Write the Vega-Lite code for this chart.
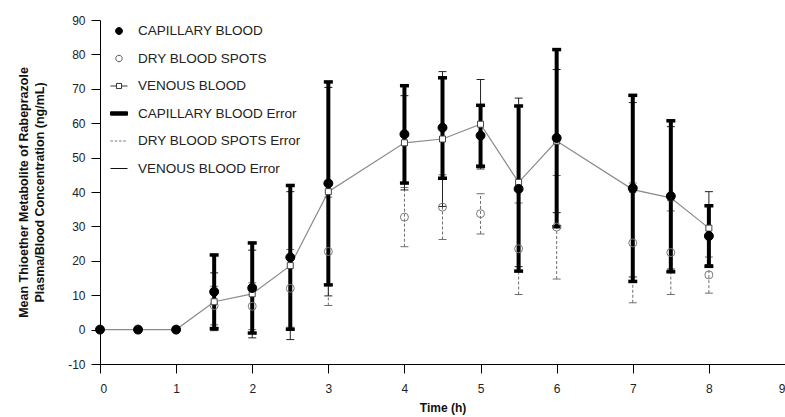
{
  "$schema": "https://vega.github.io/schema/vega-lite/v6.json",
  "width": 685,
  "height": 344,
  "autosize": "none",
  "padding": {"left": 100, "top": 20, "right": 0, "bottom": 53},
  "background": "white",
  "data": {
    "values": [
      {"time": 0, "series": "CAPILLARY BLOOD", "mean": 0},
      {"time": 0.5, "series": "CAPILLARY BLOOD", "mean": 0},
      {"time": 1, "series": "CAPILLARY BLOOD", "mean": 0},
      {"time": 1.5, "series": "CAPILLARY BLOOD", "mean": 11.0, "lo": 0.3, "hi": 21.7},
      {"time": 2, "series": "CAPILLARY BLOOD", "mean": 12.1, "lo": -1.0, "hi": 25.2},
      {"time": 2.5, "series": "CAPILLARY BLOOD", "mean": 21.0, "lo": 0.1, "hi": 41.9},
      {"time": 3, "series": "CAPILLARY BLOOD", "mean": 42.5, "lo": 13.0, "hi": 72.0},
      {"time": 4, "series": "CAPILLARY BLOOD", "mean": 56.8, "lo": 42.6, "hi": 70.9},
      {"time": 4.5, "series": "CAPILLARY BLOOD", "mean": 58.7, "lo": 44.0, "hi": 73.2},
      {"time": 5, "series": "CAPILLARY BLOOD", "mean": 56.4, "lo": 47.5, "hi": 65.2},
      {"time": 5.5, "series": "CAPILLARY BLOOD", "mean": 40.9, "lo": 17.0, "hi": 65.0},
      {"time": 6, "series": "CAPILLARY BLOOD", "mean": 55.7, "lo": 29.9, "hi": 81.4},
      {"time": 7, "series": "CAPILLARY BLOOD", "mean": 41.1, "lo": 14.0, "hi": 68.1},
      {"time": 7.5, "series": "CAPILLARY BLOOD", "mean": 38.8, "lo": 16.8, "hi": 60.7},
      {"time": 8, "series": "CAPILLARY BLOOD", "mean": 27.2, "lo": 18.4, "hi": 36.0},
      {"time": 0, "series": "DRY BLOOD SPOTS", "mean": 0},
      {"time": 0.5, "series": "DRY BLOOD SPOTS", "mean": 0},
      {"time": 1, "series": "DRY BLOOD SPOTS", "mean": 0},
      {"time": 1.5, "series": "DRY BLOOD SPOTS", "mean": 7.0, "lo": 1.4, "hi": 12.6},
      {"time": 2, "series": "DRY BLOOD SPOTS", "mean": 6.8, "lo": 0.0, "hi": 13.6},
      {"time": 2.5, "series": "DRY BLOOD SPOTS", "mean": 12.0, "lo": 0.7, "hi": 23.3},
      {"time": 3, "series": "DRY BLOOD SPOTS", "mean": 22.7, "lo": 7.0, "hi": 38.5},
      {"time": 4, "series": "DRY BLOOD SPOTS", "mean": 32.7, "lo": 24.1, "hi": 41.3},
      {"time": 4.5, "series": "DRY BLOOD SPOTS", "mean": 35.6, "lo": 26.2, "hi": 45.0},
      {"time": 5, "series": "DRY BLOOD SPOTS", "mean": 33.7, "lo": 27.8, "hi": 39.5},
      {"time": 5.5, "series": "DRY BLOOD SPOTS", "mean": 23.5, "lo": 10.2, "hi": 36.8},
      {"time": 6, "series": "DRY BLOOD SPOTS", "mean": 29.8, "lo": 14.7, "hi": 44.8},
      {"time": 7, "series": "DRY BLOOD SPOTS", "mean": 25.2, "lo": 7.8, "hi": 42.6},
      {"time": 7.5, "series": "DRY BLOOD SPOTS", "mean": 22.4, "lo": 10.2, "hi": 34.5},
      {"time": 8, "series": "DRY BLOOD SPOTS", "mean": 15.9, "lo": 10.6, "hi": 21.1},
      {"time": 0, "series": "VENOUS BLOOD", "mean": 0},
      {"time": 0.5, "series": "VENOUS BLOOD", "mean": 0},
      {"time": 1, "series": "VENOUS BLOOD", "mean": 0},
      {"time": 1.5, "series": "VENOUS BLOOD", "mean": 8.1, "lo": -0.3, "hi": 16.5},
      {"time": 2, "series": "VENOUS BLOOD", "mean": 10.4, "lo": -2.4, "hi": 23.1},
      {"time": 2.5, "series": "VENOUS BLOOD", "mean": 18.6, "lo": -2.9, "hi": 40.1},
      {"time": 3, "series": "VENOUS BLOOD", "mean": 40.1, "lo": 9.8, "hi": 70.4},
      {"time": 4, "series": "VENOUS BLOOD", "mean": 54.3, "lo": 40.6, "hi": 68.0},
      {"time": 4.5, "series": "VENOUS BLOOD", "mean": 55.4, "lo": 35.8, "hi": 75.0},
      {"time": 5, "series": "VENOUS BLOOD", "mean": 59.7, "lo": 46.7, "hi": 72.7},
      {"time": 5.5, "series": "VENOUS BLOOD", "mean": 42.8, "lo": 18.3, "hi": 67.3},
      {"time": 6, "series": "VENOUS BLOOD", "mean": 54.8, "lo": 34.0, "hi": 75.6},
      {"time": 7, "series": "VENOUS BLOOD", "mean": 40.7, "lo": 15.3, "hi": 66.0},
      {"time": 7.5, "series": "VENOUS BLOOD", "mean": 38.3, "lo": 17.6, "hi": 59.0},
      {"time": 8, "series": "VENOUS BLOOD", "mean": 29.5, "lo": 18.9, "hi": 40.1}
    ]
  },
  "encoding": {
    "x": {
      "field": "time",
      "type": "quantitative",
      "scale": {"domain": [0, 9], "nice": false},
      "axis": {"title": "Time (h)", "values": [0, 1, 2, 3, 4, 5, 6, 7, 8, 9], "format": "d", "labelPadding": 10, "titlePadding": 8}
    }
  },
  "layer": [
    {
      "transform": [{"filter": "datum.series == 'VENOUS BLOOD'"}],
      "mark": {"type": "line", "color": "#8a8a8a", "strokeWidth": 1.2},
      "encoding": {
        "y": {
          "field": "mean",
          "type": "quantitative",
          "title": ["Mean Thioether Metabolite of Rabeprazole", "Plasma/Blood Concentration (ng/mL)"],
          "scale": {"domain": [-10, 90], "nice": false, "zero": false}
        }
      }
    },
    {
      "transform": [{"filter": "datum.series == 'DRY BLOOD SPOTS' && datum.lo != null"}],
      "mark": {"type": "rule", "color": "#6e6e6e", "strokeWidth": 1, "strokeDash": [3, 2]},
      "encoding": {
        "y": {"field": "lo", "type": "quantitative", "title": ["Mean Thioether Metabolite of Rabeprazole", "Plasma/Blood Concentration (ng/mL)"], "scale": {"domain": [-10, 90], "nice": false, "zero": false}},
        "y2": {"field": "hi"}
      }
    },
    {
      "transform": [
        {"filter": "datum.series == 'DRY BLOOD SPOTS' && datum.lo != null"},
        {"fold": ["lo", "hi"], "as": ["end", "val"]}
      ],
      "mark": {"type": "tick", "orient": "horizontal", "color": "#6e6e6e", "size": 8, "thickness": 1, "opacity": 1},
      "encoding": {
        "y": {"field": "val", "type": "quantitative", "title": ["Mean Thioether Metabolite of Rabeprazole", "Plasma/Blood Concentration (ng/mL)"], "scale": {"domain": [-10, 90], "nice": false, "zero": false}}
      }
    },
    {
      "transform": [{"filter": "datum.series == 'VENOUS BLOOD' && datum.lo != null"}],
      "mark": {"type": "rule", "color": "#222222", "strokeWidth": 1},
      "encoding": {
        "y": {"field": "lo", "type": "quantitative", "title": ["Mean Thioether Metabolite of Rabeprazole", "Plasma/Blood Concentration (ng/mL)"], "scale": {"domain": [-10, 90], "nice": false, "zero": false}},
        "y2": {"field": "hi"}
      }
    },
    {
      "transform": [
        {"filter": "datum.series == 'VENOUS BLOOD' && datum.lo != null"},
        {"fold": ["lo", "hi"], "as": ["end", "val"]}
      ],
      "mark": {"type": "tick", "orient": "horizontal", "color": "#222222", "size": 8, "thickness": 1, "opacity": 1},
      "encoding": {
        "y": {"field": "val", "type": "quantitative", "title": ["Mean Thioether Metabolite of Rabeprazole", "Plasma/Blood Concentration (ng/mL)"], "scale": {"domain": [-10, 90], "nice": false, "zero": false}}
      }
    },
    {
      "transform": [{"filter": "datum.series == 'CAPILLARY BLOOD' && datum.lo != null"}],
      "mark": {"type": "rule", "color": "#000000", "strokeWidth": 4},
      "encoding": {
        "y": {"field": "lo", "type": "quantitative", "title": ["Mean Thioether Metabolite of Rabeprazole", "Plasma/Blood Concentration (ng/mL)"], "scale": {"domain": [-10, 90], "nice": false, "zero": false}},
        "y2": {"field": "hi"}
      }
    },
    {
      "transform": [
        {"filter": "datum.series == 'CAPILLARY BLOOD' && datum.lo != null"},
        {"fold": ["lo", "hi"], "as": ["end", "val"]}
      ],
      "mark": {"type": "tick", "orient": "horizontal", "color": "#000000", "size": 9, "thickness": 3.5, "opacity": 1},
      "encoding": {
        "y": {"field": "val", "type": "quantitative", "title": ["Mean Thioether Metabolite of Rabeprazole", "Plasma/Blood Concentration (ng/mL)"], "scale": {"domain": [-10, 90], "nice": false, "zero": false}}
      }
    },
    {
      "transform": [{"filter": "datum.series == 'DRY BLOOD SPOTS'"}],
      "mark": {"type": "point", "shape": "circle", "size": 64, "fill": "transparent", "stroke": "#7a7a7a", "strokeWidth": 1, "opacity": 1},
      "encoding": {
        "y": {"field": "mean", "type": "quantitative", "title": ["Mean Thioether Metabolite of Rabeprazole", "Plasma/Blood Concentration (ng/mL)"], "scale": {"domain": [-10, 90], "nice": false, "zero": false}}
      }
    },
    {
      "transform": [{"filter": "datum.series == 'VENOUS BLOOD'"}],
      "mark": {"type": "point", "shape": "square", "size": 36, "fill": "white", "stroke": "#444444", "strokeWidth": 1, "opacity": 1},
      "encoding": {
        "y": {"field": "mean", "type": "quantitative", "title": ["Mean Thioether Metabolite of Rabeprazole", "Plasma/Blood Concentration (ng/mL)"], "scale": {"domain": [-10, 90], "nice": false, "zero": false}}
      }
    },
    {
      "transform": [{"filter": "datum.series == 'CAPILLARY BLOOD'"}],
      "mark": {"type": "point", "size": 289, "strokeWidth": 1, "opacity": 1},
      "encoding": {
        "y": {"field": "mean", "type": "quantitative", "title": ["Mean Thioether Metabolite of Rabeprazole", "Plasma/Blood Concentration (ng/mL)"], "scale": {"domain": [-10, 90], "nice": false, "zero": false}},
        "shape": {
          "field": "series",
          "type": "nominal",
          "scale": {
            "domain": ["CAPILLARY BLOOD", "DRY BLOOD SPOTS", "VENOUS BLOOD", "CAPILLARY BLOOD Error", "DRY BLOOD SPOTS Error", "VENOUS BLOOD Error"],
            "range": [
              "M0.4,0A0.4,0.4 0 1,1 -0.4,0A0.4,0.4 0 1,1 0.4,0Z",
              "M0.38,0A0.38,0.38 0 1,1 -0.38,0A0.38,0.38 0 1,1 0.38,0Z",
              "M-1,0H-0.3M0.3,0H1M-0.3,-0.3H0.3V0.3H-0.3Z",
              "M-1,-0.2H1V0.2H-1Z",
              "M-1,0H-0.7M-0.5,0H-0.2M0,0H0.3M0.5,0H0.8",
              "M-1,0H1"
            ]
          },
          "legend": {"title": null}
        },
        "fill": {
          "field": "series",
          "type": "nominal",
          "scale": {
            "domain": ["CAPILLARY BLOOD", "DRY BLOOD SPOTS", "VENOUS BLOOD", "CAPILLARY BLOOD Error", "DRY BLOOD SPOTS Error", "VENOUS BLOOD Error"],
            "range": ["#000000", "white", "white", "#000000", "transparent", "transparent"]
          },
          "legend": {"title": null}
        },
        "stroke": {
          "field": "series",
          "type": "nominal",
          "scale": {
            "domain": ["CAPILLARY BLOOD", "DRY BLOOD SPOTS", "VENOUS BLOOD", "CAPILLARY BLOOD Error", "DRY BLOOD SPOTS Error", "VENOUS BLOOD Error"],
            "range": ["#000000", "#555555", "#333333", "#000000", "#777777", "#111111"]
          },
          "legend": {"title": null}
        }
      }
    },
    {
      "transform": [{"filter": "datum.series == 'CAPILLARY BLOOD'"}],
      "mark": {"type": "point", "shape": "circle", "size": 80, "fill": "#000000", "stroke": "#000000", "strokeWidth": 1, "opacity": 1},
      "encoding": {
        "y": {"field": "mean", "type": "quantitative", "title": ["Mean Thioether Metabolite of Rabeprazole", "Plasma/Blood Concentration (ng/mL)"], "scale": {"domain": [-10, 90], "nice": false, "zero": false}}
      }
    }
  ],
  "config": {
    "view": {"stroke": null},
    "axis": {
      "grid": false,
      "domainColor": "#000000",
      "tickColor": "#000000",
      "tickSize": 9,
      "labelFont": "Liberation Sans",
      "labelFontSize": 12,
      "labelColor": "#222222",
      "titleFont": "Liberation Sans",
      "titleFontSize": 12,
      "titleFontWeight": "bold",
      "titleColor": "#111111"
    },
    "axisY": {
      "values": [-10, 0, 10, 20, 30, 40, 50, 60, 70, 80, 90],
      "labelExpr": "'' + datum.value",
      "labelPadding": 6,
      "titlePadding": 21,
      "titleFontSize": 12.5,
      "titleLineHeight": 16
    },
    "legend": {
      "orient": "none",
      "legendX": 10,
      "legendY": 2,
      "padding": 0,
      "rowPadding": 11.5,
      "labelOffset": 10,
      "labelFont": "Liberation Sans",
      "labelFontSize": 13.5,
      "labelColor": "#222222",
      "symbolSize": 289,
      "symbolStrokeWidth": 1,
      "labelLimit": 300
    }
  }
}
